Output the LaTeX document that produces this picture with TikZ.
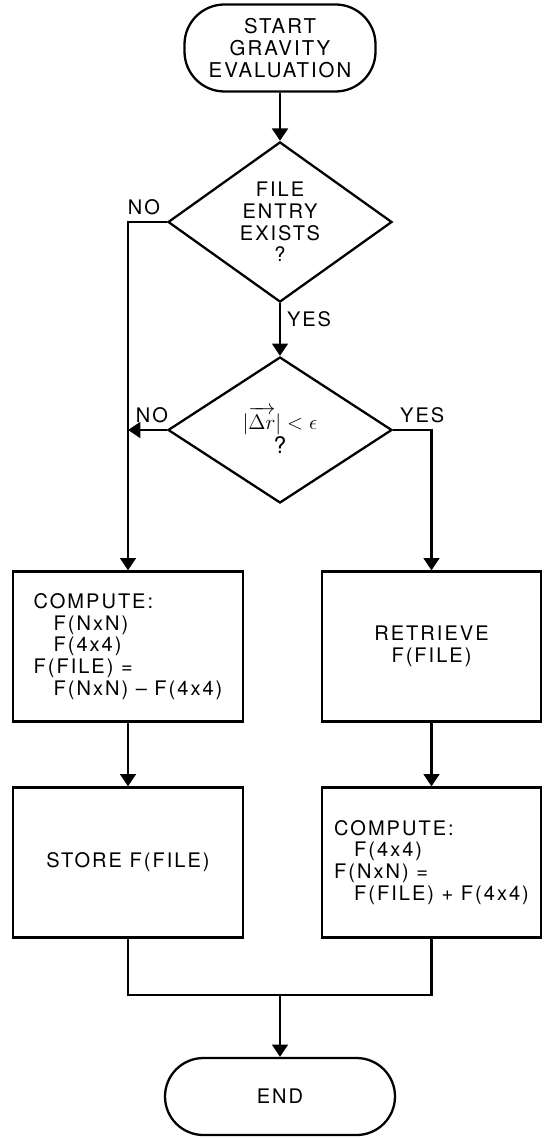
\documentclass[tikz,border=0pt]{standalone}
\usepackage{fontspec}
\setmainfont[LetterSpace=10]{TeX Gyre Heros}
\usepackage{amsmath}
\usetikzlibrary{positioning, arrows.meta, shapes, calc}
\newcommand\indt{\hspace*{1em}}

\begin{document}
\begin{tikzpicture}[line width=1.3pt,
    every node/.style={font=\fontsize{11.4}{12.4}\selectfont},
    term/.style={draw, rounded corners=0.8cm, minimum height=1.74cm, align=center},
    decis/.style={draw, diamond, minimum width=4.48cm, minimum height=2.92cm, inner sep=0pt, align=center},
    proc/.style={draw, minimum height=3cm, align=left},
    arr/.style={-{Triangle[width=9pt,length=7pt]}}]
    \useasboundingbox (0,0) rectangle (10.86,-22.76);
    % Terminais
    \node[term, minimum width=3.82cm, font=\fontsize{11.6}{12.4}\selectfont] (start) at (5.6,-0.96) {START\\GRAVITY\\EVALUATION};
    \node[term, minimum width=4.6cm, rounded corners=0.77cm, minimum height=1.54cm] (end) at (5.6,-21.93) {END};
    % Decisoes
    \node[decis] (file) at (5.6,-4.44) {FILE\\ENTRY\\EXISTS\\?};
    \node[decis, font=\fontsize{13}{13.6}\selectfont] (dr) at (5.6,-8.6) {$|\overrightarrow{\Delta r}| < \epsilon$\\?};
    % Caixas
    \node[proc, minimum width=4.6cm] (comp) at (2.56,-12.93)
      {COMPUTE:\\\indt F(NxN)\\\indt F(4x4)\\F(FILE) =\\\indt F(NxN) -- F(4x4)};
    \node[proc, minimum width=4.38cm, align=center] (retr) at (8.63,-12.93) {RETRIEVE\\F(FILE)};
    \node[proc, minimum width=4.6cm] (store) at (2.56,-17.25) {STORE F(FILE)};
    \node[proc, minimum width=4.38cm] (comp2) at (8.63,-17.25)
      {COMPUTE:\\\indt F(4x4)\\F(NxN) =\\\indt F(FILE) + F(4x4)};
    % Ligacoes
    \draw[arr] (start) -- (file);
    \draw[arr] (file) -- node[pos=0.3, right] (yes1) {YES} (dr);
    \draw[arr] (file.west) node[anchor=south east] (no1) {NO} -| (comp.north);
    \draw[arr] (dr.west) node[anchor=south east, xshift=0.16cm] (no2) {NO} -- (dr.west -| comp.north);
    \draw[arr] (dr.east) node[anchor=south west] (yes2) {YES} -| (retr.north);
    \draw[arr] (comp) -- (store);
    \draw[arr] (retr) -- (comp2);
    % Juncao
    \coordinate (join) at (5.6,-19.9);
    \draw (store.south) |- (join) -| (comp2.south);
    \draw[arr] (join) -- (end);
\end{tikzpicture}
\end{document}
